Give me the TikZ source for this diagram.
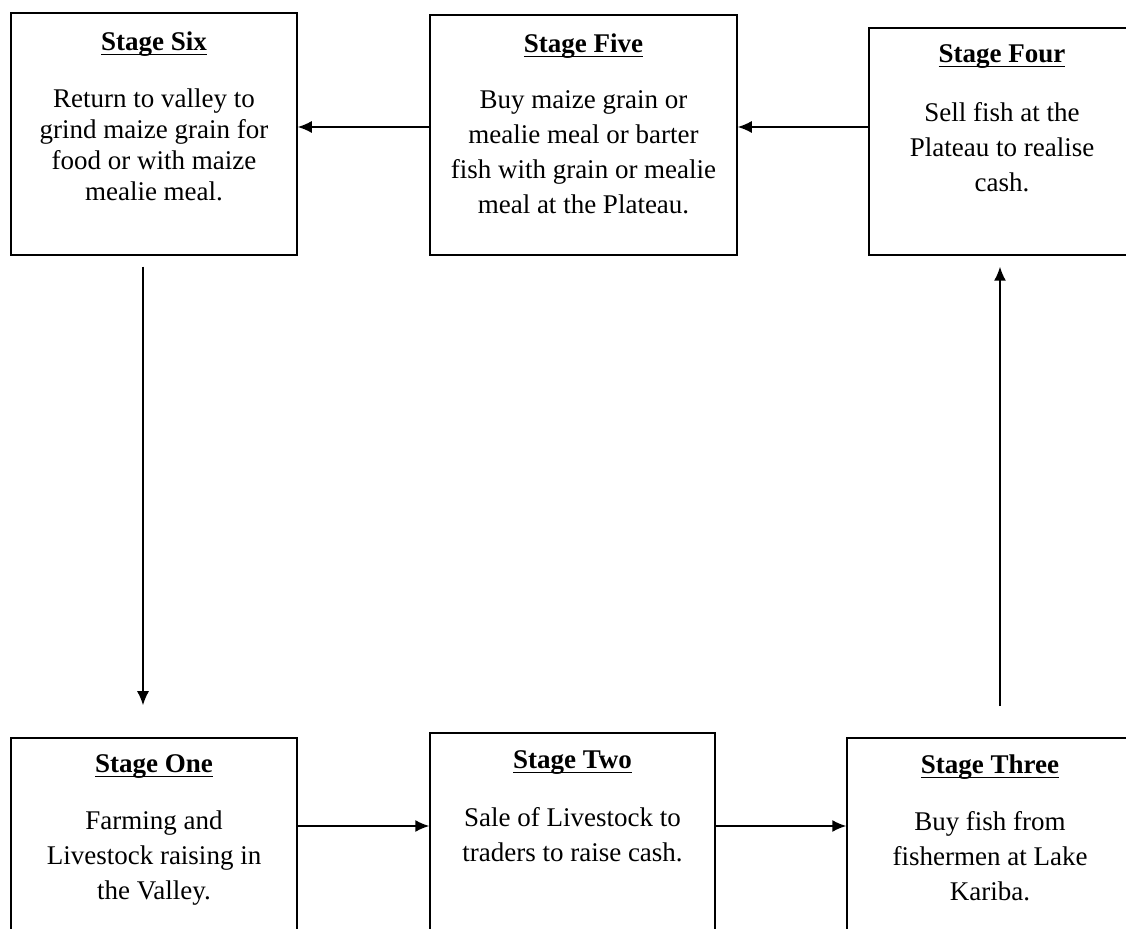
\documentclass[tikz,border=0pt]{standalone}
\usepackage{fontspec}
\setmainfont{Liberation Serif}
\usetikzlibrary{positioning, arrows.meta}
\newcommand\stgul[1]{\setbox0\hbox{#1}\rlap{\rule[-2.2pt]{\wd0}{0.65pt}}\box0}

\begin{document}
\begin{tikzpicture}[x=0.5pt, y=-0.5pt]
      \tikzset{ stg/.style ={draw=black, line width=0.75pt, inner sep=0pt} }
      \tikzset{ ttl/.style ={inner sep=0pt, font=\fontsize{13.5}{17.5}\selectfont\bfseries} }
      \tikzset{ txt/.style ={inner sep=0pt, align=center, font=\fontsize{13.5}{17.5}\selectfont} }
      \tikzset{ flw/.style ={->, >={Latex[length=7pt, width=6pt]}, line width=0.75pt} }

      \useasboundingbox (0,0) rectangle (1126,929);
      \clip (0,0) rectangle (1126,929);

      % upper row
      \node[stg, minimum width=143pt,   minimum height=121pt]   (s6) at (154,134)    {};
      \node[stg, minimum width=153.5pt, minimum height=120pt]   (s5) at (583.5,135)  {};
      \node[stg, minimum width=133pt,   minimum height=113.5pt] (s4) at (1002,141.5) {};
      % lower row
      \node[stg, minimum width=143pt,   minimum height=121pt]   (s1) at (154,859)    {};
      \node[stg, minimum width=142.5pt, minimum height=121pt]   (s2) at (572.5,854)  {};
      \node[stg, minimum width=143pt,   minimum height=121pt]   (s3) at (990,859)    {};

      \node[ttl, below=9.7pt of s6.north] (t6) {\stgul{Stage Six}};
      \node[ttl, below=9.7pt of s5.north] (t5) {\stgul{Stage Five}};
      \node[ttl, below=8.7pt of s4.north] (t4) {\stgul{Stage Four}};
      \node[ttl, below=8.7pt of s1.north] (t1) {\stgul{Stage One}};
      \node[ttl, below=9.2pt of s2.north] (t2) {\stgul{Stage Two}};
      \node[ttl, below=8.7pt of s3.north] (t3) {\stgul{Stage Three}};

      \node[txt, below=38.2pt of s6.north, font=\fontsize{13.5}{15.5}\selectfont] (b6) {Return to valley to\\grind maize grain for\\food or with maize\\mealie meal.};
      \node[txt, below=38.2pt of s5.north] (b5) {Buy maize grain or\\mealie meal or barter\\fish with grain or mealie\\meal at the Plateau.};
      \node[txt, below=37.2pt of s4.north] (b4) {Sell fish at the\\Plateau to realise\\cash.};
      \node[txt, below=36.7pt of s1.north] (b1) {Farming and\\Livestock raising in\\the Valley.};
      \node[txt, below=37.2pt of s2.north] (b2) {Sale of Livestock to\\traders to raise cash.};
      \node[txt, below=36.7pt of s3.north] (b3) {Buy fish from\\fishermen at Lake\\Kariba.};

      \draw[flw] ([yshift=16.5pt]s1.east) -- ([yshift=16.5pt]s1.east -| s2.west);
      \draw[flw] ([yshift=14pt]s2.east)   -- ([yshift=14pt]s2.east -| s3.west);
      \draw[flw, shorten <=15.5pt, shorten >=5.5pt] ([xshift=5pt]s3.north) -- ([xshift=5pt]s3.north |- s4.south);
      \draw[flw] ([yshift=7.25pt]s4.west) -- ([yshift=7.25pt]s4.west -| s5.east);
      \draw[flw] ([yshift=4pt]s5.west)    -- ([yshift=4pt]s5.west -| s6.east);
      \draw[flw, shorten <=5.5pt, shorten >=16pt] ([xshift=-5.5pt]s6.south) -- ([xshift=-5.5pt]s6.south |- s1.north);
    \end{tikzpicture}
\end{document}
